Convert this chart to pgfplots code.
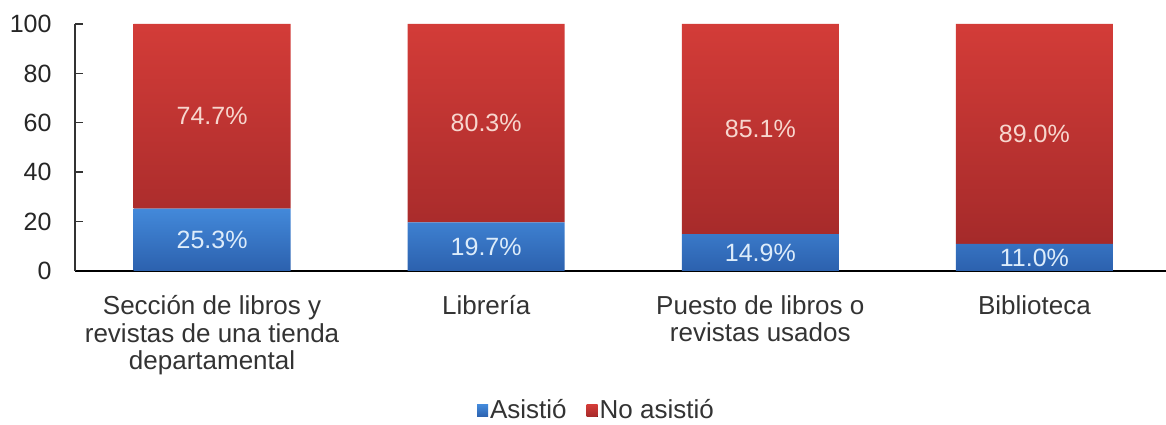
\documentclass[border=0pt]{standalone}
\usepackage{pgfplots}
\pgfplotsset{compat=1.18}
\usepackage{pgfplotstable}
\usepackage{fontspec}
\setmainfont{Liberation Sans}
\definecolor{redtop}{HTML}{D33C38}
\definecolor{redbot}{HTML}{A52A2A}
\definecolor{bluetop}{HTML}{4389DA}
\definecolor{bluebot}{HTML}{2C61AE}
\definecolor{txt}{HTML}{333333}
\definecolor{redlab}{HTML}{F7D6CE}
\definecolor{bluelab}{HTML}{DDECFA}
\pgfplotstableread{
x a n
0 25.3 74.7
1 19.7 80.3
2 14.9 85.1
3 11.0 89.0
}\data
\begin{document}
\begin{tikzpicture}
\begin{axis}[
  name=ax,
  width=1091pt, height=247pt, scale only axis,
  xmin=-0.5, xmax=3.48, ymin=0, ymax=100,
  ybar stacked, bar width=157pt,
  axis x line*=bottom, axis y line*=left,
  x axis line style={black, line width=2.2pt},
  y axis line style={black!80, line width=1.6pt},
  xtick={0,1,2,3},
  xticklabels={{Sección de libros y\\revistas de una tienda\\departamental}, Librería, {Puesto de libros o\\revistas usados}, Biblioteca},
  xticklabel style={align=center, text=txt, font=\fontsize{26}{27.5}\selectfont, yshift=-21pt},
  major x tick style={draw=none},
  ytick={0,20,...,100},
  tick align=inside,
  major tick length=8pt,
  y tick style={black!80, line width=1.4pt},
  yticklabel style={text=black!85, font=\fontsize{25}{30}\selectfont, xshift=-20pt},
  /pgf/number format/assume math mode=true,
  legend style={at={(0.478,-0.562)}, anchor=center, draw=none, legend columns=-1,
    font=\fontsize{26}{30}\selectfont, text=txt,
    /tikz/every even column/.append style={column sep=18pt}},
  legend image code/.code={\fill[#1] (0pt,-7pt) rectangle (11pt,5pt);},
  nodes near coords={\pgfmathprintnumber[fixed,fixed zerofill,precision=1]{\rawy}\%},
  every node near coord/.append style={anchor=center, font=\fontsize{25}{30}\selectfont},
]
\addplot[draw=none, top color=bluetop, bottom color=bluebot,
  visualization depends on={\thisrow{a} \as \rawy},
  every node near coord/.append style={text=bluelab}] table[x=x,y=a]{\data};
\addplot[draw=none, top color=redtop, bottom color=redbot,
  visualization depends on={\thisrow{n} \as \rawy},
  every node near coord/.append style={text=redlab}] table[x=x,y=n]{\data};
\legend{Asistió, No asistió}
\end{axis}
\pgfresetboundingbox
\path ([xshift=-75pt,yshift=-154pt]ax.south west) rectangle ([yshift=24pt]ax.north east);
\end{tikzpicture}
\end{document}
